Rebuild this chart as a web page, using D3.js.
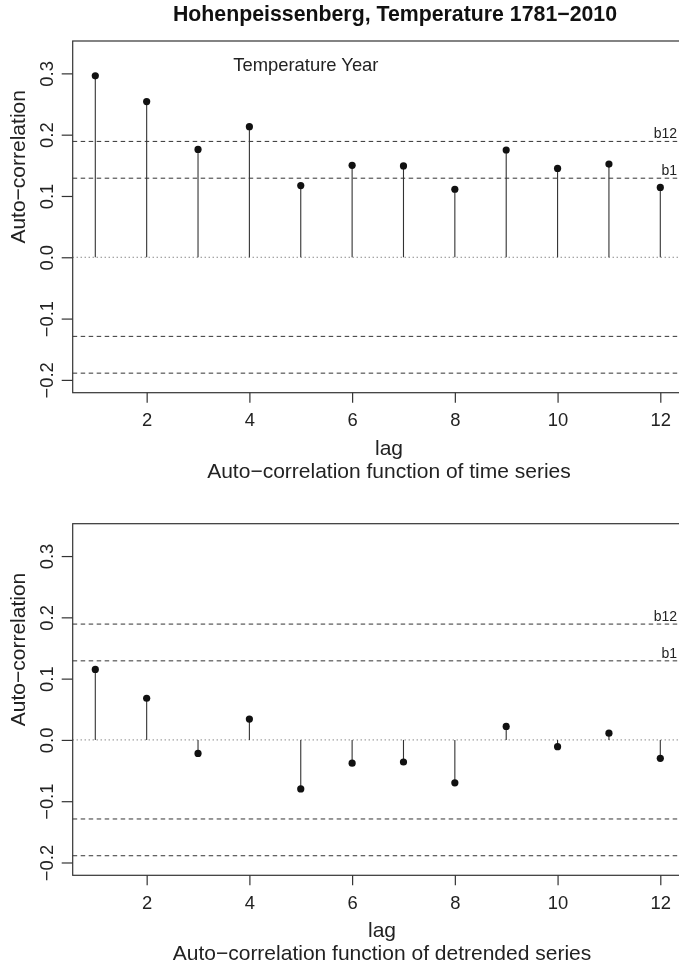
<!DOCTYPE html>
<html>
<head>
<meta charset="utf-8">
<script src="https://cdn.jsdelivr.net/npm/d3@7"></script>
<style>
  body { margin: 0; background: #fff; }
  svg { display: block; font-family: "Liberation Sans", Arial, Helvetica, sans-serif; filter: grayscale(1); }
</style>
</head>
<body>
<div id="container"></div>
<script>
// ACF plots, Hohenpeissenberg yearly temperature

const lags = [1, 2, 3, 4, 5, 6, 7, 8, 9, 10, 11, 12]
const acfTime = [0.296, 0.254, 0.176, 0.213, 0.117, 0.150, 0.149, 0.111, 0.175, 0.145, 0.152, 0.114]
const acfDetrended = [0.115, 0.068, -0.022, 0.034, -0.080, -0.038, -0.036, -0.070, 0.022, -0.011, 0.011, -0.030]
const boundNames = ["b12", "b1"]
const boundValues = [0.189, 0.129]
const yTicks = [-0.2, -0.1, 0.0, 0.1, 0.2, 0.3]
const xTicks = [2, 4, 6, 8, 10, 12]
const subtitles = ["Auto\u2212correlation function of time series", "Auto\u2212correlation function of detrended series"]

const width = 679,
    height = 970

const svg = d3.select("#container")
    .append("svg")
    .attr("width", width)
    .attr("height", height)

svg.append("rect").attr("width", width).attr("height", height).attr("fill", "#fff")

svg.append("text")
    .attr("x", 395)
    .attr("y", 21)
    .attr("text-anchor", "middle")
    .attr("font-weight", "bold")
    .attr("font-size", 21.3)
    .attr("fill", "#111")
    .text("Hohenpeissenberg, Temperature 1781\u22122010")

const xScale = d3.scaleLinear()
    .domain([0.56, 12.44])
    .range([72.7, 682.9])

function drawPanel(top, bottom, values, sub, subX, label) {
    const yScale = d3.scaleLinear()
        .domain([-0.2209, 0.3528])
        .range([bottom, top])
    const g = svg.append("g")
    const [x0, x1] = xScale.range()

    // box
    g.append("rect")
        .attr("x", x0).attr("y", top)
        .attr("width", x1 - x0).attr("height", bottom - top)
        .attr("fill", "none").attr("stroke", "#333").attr("stroke-width", 1.2)

    // y axis
    const yAxis = d3.axisLeft(yScale)
        .tickValues(yTicks)
        .tickSize(11)
        .tickSizeOuter(0)
        .tickFormat(d3.format(".1f"))
    const ya = g.append("g")
        .attr("transform", `translate(${x0},0)`)
        .call(yAxis)
    ya.select(".domain").remove()
    ya.selectAll("line").attr("stroke", "#333").attr("stroke-width", 1.2)
    ya.selectAll("text")
        .attr("x", null).attr("dy", null)
        .attr("text-anchor", "middle")
        .attr("transform", "translate(-20,0) rotate(-90)")
        .attr("font-size", 18.4)
        .attr("fill", "#222")
        .attr("font-family", "Liberation Sans, Arial, sans-serif")

    // x axis
    const xAxis = d3.axisBottom(xScale)
        .tickValues(xTicks)
        .tickSize(10)
        .tickSizeOuter(0)
    const xa = g.append("g")
        .attr("transform", `translate(0,${bottom})`)
        .call(xAxis)
    xa.select(".domain").remove()
    xa.selectAll("line").attr("stroke", "#333").attr("stroke-width", 1.2)
    xa.selectAll("text")
        .attr("y", 33.5).attr("dy", null)
        .attr("font-size", 18.4)
        .attr("fill", "#222")
        .attr("font-family", "Liberation Sans, Arial, sans-serif")

    // bounds
    const bounds = boundValues.flatMap(v => [v, -v])
    g.selectAll(".bound")
        .data(bounds)
        .enter()
        .append("line")
        .attr("class", "bound")
        .attr("x1", x0).attr("x2", x1)
        .attr("y1", d => yScale(d)).attr("y2", d => yScale(d))
        .attr("stroke", "#333")
        .attr("stroke-width", 1)
        .attr("stroke-dasharray", "4.5,3.5")

    g.selectAll(".bname")
        .data(boundNames)
        .enter()
        .append("text")
        .attr("x", 677)
        .attr("y", (d, i) => yScale(boundValues[i]) - 3)
        .attr("text-anchor", "end")
        .attr("font-size", 14)
        .attr("fill", "#222")
        .text(d => d)

    // zero line
    g.append("line")
        .attr("x1", x0).attr("x2", x1)
        .attr("y1", yScale(0)).attr("y2", yScale(0))
        .attr("stroke", "#555")
        .attr("stroke-width", 1)
        .attr("stroke-dasharray", "1,3")

    // stems
    g.selectAll(".stem")
        .data(values)
        .enter()
        .append("line")
        .attr("class", "stem")
        .attr("x1", (d, i) => xScale(lags[i]))
        .attr("x2", (d, i) => xScale(lags[i]))
        .attr("y1", yScale(0))
        .attr("y2", d => yScale(d))
        .attr("stroke", "#333")
        .attr("stroke-width", 1.1)

    g.selectAll(".dot")
        .data(values)
        .enter()
        .append("circle")
        .attr("class", "dot")
        .attr("cx", (d, i) => xScale(lags[i]))
        .attr("cy", d => yScale(d))
        .attr("r", 3.6)
        .attr("fill", "#111")

    // labels
    const mid = (top + bottom) / 2 - 50
    g.append("text")
        .attr("transform", `translate(25,${mid}) rotate(-90)`)
        .attr("text-anchor", "middle")
        .attr("font-size", 21)
        .attr("fill", "#222")
        .text("Auto\u2212correlation")

    g.append("text")
        .attr("x", subX)
        .attr("y", bottom + 62)
        .attr("text-anchor", "middle")
        .attr("font-size", 21)
        .attr("fill", "#222")
        .text("lag")

    g.append("text")
        .attr("x", subX)
        .attr("y", bottom + 85)
        .attr("text-anchor", "middle")
        .attr("font-size", 21)
        .attr("fill", "#222")
        .text(sub)

    if (label) {
        g.append("text")
            .attr("x", 233.3)
            .attr("y", top + 30)
            .attr("font-size", 18.4)
            .attr("fill", "#222")
            .text(label)
    }
}

drawPanel(41, 392.7, acfTime, subtitles[0], 389, "Temperature Year")
drawPanel(523.7, 875.3, acfDetrended, subtitles[1], 382, null)
</script>
</body>
</html>
